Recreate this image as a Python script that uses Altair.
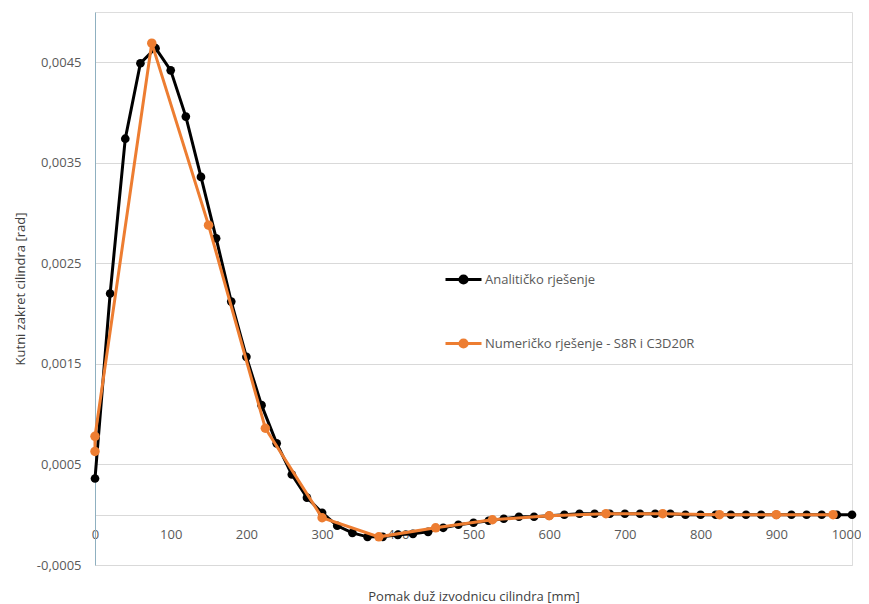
import altair as alt
import pandas as pd

series_names = ["Analitičko rješenje", "Numeričko rješenje - S8R i C3D20R"]
series_colors = ["#000000", "#ED7D31"]

# Analytical solution (every 20 mm)
an_x = list(range(0, 1001, 20))
an_y = [0.00036, 0.00220, 0.00374, 0.00449, 0.00464, 0.00442, 0.00396, 0.00336,
        0.00275, 0.00212, 0.00157, 0.00109, 0.00071, 0.00040, 0.00017, 0.00002,
        -0.00011, -0.00018, -0.00022, -0.00022, -0.00020, -0.00019, -0.00017,
        -0.00013, -0.00010, -0.00008, -0.00006, -0.00004, -0.00002, -0.00002,
        -0.00001, 0.00000, 0.00001, 0.00001, 0.00001, 0.00001, 0.00001, 0.00001,
        0.00001, 0.00000, 0.00000, 0.00000, 0.00000, 0.00000, 0.00000, 0.00000,
        0.00000, 0.00000, 0.00000, 0.00000, 0.00000]

# Numerical solution
num_x = [0, 0, 75, 150, 225, 300, 375, 450, 525, 600, 675, 750, 825, 900, 975]
num_y = [0.00063, 0.00078, 0.00469, 0.00288, 0.00086, -0.00003, -0.00022, -0.00013,
         -0.00005, -0.00001, 0.00001, 0.00001, 0.00000, 0.00000, 0.00000]

y_ticks = [-0.0005, 0.0005, 0.0015, 0.0025, 0.0035, 0.0045]
x_ticks = list(range(0, 1001, 100))

df_an = pd.DataFrame({"x": an_x, "y": an_y, "s": series_names[0], "o": range(len(an_x))})
df_num = pd.DataFrame({"x": num_x, "y": num_y, "s": series_names[1], "o": range(len(num_x))})

FONT = "Open Sans"

color = alt.Color(
    "s:N",
    scale=alt.Scale(domain=series_names, range=series_colors),
    legend=alt.Legend(
        title=None,
        orient="none",
        legendX=349,
        legendY=248,
        padding=0,
        rowPadding=34,
        symbolType="M-1,0L1,0M-0.2,0A0.2,0.2,0,1,1,0.2,0A0.2,0.2,0,1,1,-0.2,0Z",
        symbolSize=1296,
        symbolStrokeWidth=3,
        labelOffset=2,
        labelFont=FONT,
        labelFontSize=13,
        labelColor="#595959",
        labelLimit=400,
    ),
)

x_enc = alt.X(
    "x:Q",
    scale=alt.Scale(domain=[0, 1000], nice=False, zero=False),
    axis=alt.Axis(
        values=x_ticks,
        format="d",
        labelFlush=False,
        labelOverlap=False,
        labelOffset={"condition": {"test": "datum.value == 1000", "value": -6}, "value": 0},
        title="Pomak duž izvodnicu cilindra [mm]",
        grid=False,
        ticks=False,
        tickSize=0,
        domain=True,
        domainColor="#d9d9d9",
        domainWidth=1,
        offset=-50,
        labelPadding=13,
        labelFont=FONT,
        labelFontSize=13,
        labelColor="#595959",
        titleFont=FONT,
        titleFontSize=13,
        titleFontWeight="normal",
        titleColor="#404040",
        titlePadding=49,
    ),
)

y_enc = alt.Y(
    "y:Q",
    scale=alt.Scale(domain=[-0.0005, 0.005], nice=False, zero=False),
    axis=alt.Axis(
        values=y_ticks,
        labelExpr="replace(replace(format(datum.value, '.4f'), '.', ','), '\u2212', '-')",
        title="Kutni zakret cilindra [rad]",
        grid=True,
        gridColor="#d9d9d9",
        gridWidth=1,
        ticks=False,
        tickSize=0,
        domain=True,
        domainColor="#8fb0c0",
        domainWidth=1,
        labelPadding=14,
        labelFont=FONT,
        labelFontSize=13,
        labelColor="#595959",
        titleFont=FONT,
        titleFontSize=13,
        titleFontWeight="normal",
        titleColor="#404040",
        titlePadding=9,
    ),
)


def series_layers(df, size):
    base = alt.Chart(df).encode(x=x_enc, y=y_enc, color=color, order="o:Q")
    line = base.mark_line(strokeWidth=3)
    pts = base.mark_point(filled=True, opacity=1, size=size)
    return [line, pts]


layers = series_layers(df_an, 75) + series_layers(df_num, 90)

chart = alt.layer(*layers).properties(
    width=757,
    height=553,
    autosize=alt.AutoSizeParams(type="none"),
    padding={"left": 87, "top": 4, "right": 9, "bottom": 45},
).configure_view(stroke=None).configure(background="white")

chart.save("out.html", embed_options={"renderer": "svg", "actions": False})
